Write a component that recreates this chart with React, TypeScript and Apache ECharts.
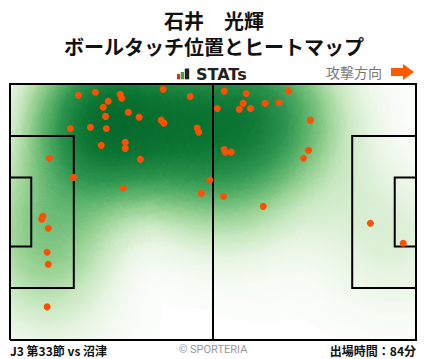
import React, { useEffect, useRef } from 'react';
import * as echarts from 'echarts';

const TITLE_LINES = ['石井　光輝', 'ボールタッチ位置とヒートマップ'];
const BRAND = 'STATs';
const DIRECTION_LABEL = '攻撃方向';
const MATCH_LABEL = 'J3 第33節 vs 沼津';
const COPYRIGHT = '© SPORTERIA';
const MINUTES_LABEL = '出場時間：84分';

// Pitch in metres: x along the length (0..105, attacking right), y across (0..68, top = 68)
const PITCH_LENGTH = 105;
const PITCH_WIDTH = 68;

// Ball-touch positions (metres)
const touchX = [
  17.7, 22.1, 28.5, 28.9, 39.6, 46.6, 25.4, 24.1, 30.6, 24.7,
  33.4, 39.1, 39.8, 15.6, 20.8, 24.9, 48.4, 48.8, 29.8, 29.8,
  23.6, 10.2, 33.7, 16.4, 29.3, 51.7, 49.5, 8.5, 8.2, 9.9,
  9.6, 9.9, 9.6, 55.4, 61.1, 72.0, 60.3, 66.0, 69.6, 53.6,
  59.3, 62.2, 77.7, 55.4, 55.7, 57.2, 77.2, 75.9, 55.2, 65.5,
  93.2, 101.7,
];
const touchY = [
  65.0, 65.8, 65.3, 64.2, 66.6, 64.7, 63.4, 61.8, 60.5, 59.4,
  59.2, 58.4, 57.6, 56.2, 56.5, 56.2, 56.3, 55.2, 52.5, 50.9,
  51.7, 48.3, 48.0, 43.2, 40.3, 42.5, 39.0, 32.9, 32.1, 29.7,
  23.3, 20.1, 8.8, 66.1, 65.5, 66.1, 62.9, 62.9, 63.1, 61.5,
  61.3, 61.5, 58.4, 50.6, 49.9, 49.9, 50.4, 48.3, 38.2, 35.5,
  31.0, 25.7,
];

// Pitch markings (metres)
const pitchLines: number[][][] = [
  [[0, 0], [105, 0], [105, 68], [0, 68], [0, 0]],
  [[52.5, 0], [52.5, 68]],
  [[0, 13.84], [16.5, 13.84], [16.5, 54.16], [0, 54.16]],
  [[0, 24.84], [5.5, 24.84], [5.5, 43.16], [0, 43.16]],
  [[105, 13.84], [88.5, 13.84], [88.5, 54.16], [105, 54.16]],
  [[105, 24.84], [99.5, 24.84], [99.5, 43.16], [105, 43.16]],
];

const HEAT_COLORS = ['#fbfdfa', '#e6f4e1', '#c6e7bf', '#97d192', '#5fb56e', '#2c944d', '#0b7533', '#005c24', '#004a1c'];

const pitchGeoJSON = {
  type: 'FeatureCollection',
  features: [
    {
      type: 'Feature',
      properties: { name: 'pitch' },
      geometry: {
        type: 'Polygon',
        coordinates: [[[0, 0], [PITCH_LENGTH, 0], [PITCH_LENGTH, PITCH_WIDTH], [0, PITCH_WIDTH], [0, 0]]],
      },
    },
  ],
};

const JP = '"Noto Sans CJK JP", "Noto Sans", sans-serif';

export default function App() {
  const ref = useRef<HTMLDivElement>(null);

  useEffect(() => {
    document.body.style.margin = '0';
    if (!ref.current) return;
    echarts.registerMap('pitch', pitchGeoJSON as any);
    const chart = echarts.init(ref.current, null, { renderer: 'svg' });

    const touches = touchX.map((x, i) => [x, touchY[i]]);

    const option: any = {
      animation: false,
      backgroundColor: '#ffffff',
      geo: {
        map: 'pitch',
        left: 10,
        top: 84,
        width: 406,
        height: 256,
        boundingCoords: [[0, PITCH_WIDTH], [PITCH_LENGTH, 0]],
        roam: false,
        silent: true,
        label: { show: false },
        itemStyle: { areaColor: '#ffffff', borderWidth: 0, borderColor: 'rgba(0,0,0,0)' },
        emphasis: { disabled: true },
        select: { disabled: true },
      },
      visualMap: {
        type: 'continuous',
        show: false,
        min: 0,
        max: 5.5,
        seriesIndex: 0,
        inRange: { color: HEAT_COLORS },
      },
      series: [
        {
          type: 'heatmap',
          coordinateSystem: 'geo',
          data: touches.map(([x, y]) => [x, y, 1]),
          pointSize: 50,
          blurSize: 80,
          minOpacity: 1,
          maxOpacity: 1,
          z: 2,
        },
        {
          type: 'lines',
          coordinateSystem: 'geo',
          polyline: true,
          silent: true,
          z: 3,
          lineStyle: { color: '#000000', width: 2, opacity: 1, curveness: 0 },
          data: pitchLines.map((coords) => ({ coords })),
        },
        {
          type: 'scatter',
          coordinateSystem: 'geo',
          silent: true,
          z: 4,
          symbol: 'circle',
          symbolSize: 7,
          itemStyle: { color: '#ff4f00', opacity: 1 },
          data: touches,
        },
      ],
      graphic: [
        {
          type: 'text', x: 214, y: 20.5,
          style: { text: TITLE_LINES[0], fontSize: 20, lineHeight: 20, fontWeight: 'bold', fontFamily: JP, fill: '#111',
            align: 'center', verticalAlign: 'middle', textAlign: 'center', textVerticalAlign: 'middle' },
        },
        {
          type: 'text', x: 214, y: 46.5,
          style: { text: TITLE_LINES[1], fontSize: 20, lineHeight: 20, fontWeight: 'bold', fontFamily: JP, fill: '#111',
            align: 'center', verticalAlign: 'middle', textAlign: 'center', textVerticalAlign: 'middle' },
        },
        { type: 'rect', shape: { x: 177, y: 74, width: 3.2, height: 5.3 }, style: { fill: '#e8251f' } },
        { type: 'rect', shape: { x: 180.8, y: 72, width: 3.2, height: 7.3 }, style: { fill: '#2eaa3a' } },
        { type: 'rect', shape: { x: 184.8, y: 68.5, width: 4.4, height: 10.8 }, style: { fill: '#222' } },
        {
          type: 'text', x: 196, y: 74,
          style: { text: BRAND, fontSize: 16, fontWeight: 'bold', fontFamily: '"DejaVu Sans", sans-serif', fill: '#222',
            align: 'left', verticalAlign: 'middle', textAlign: 'left', textVerticalAlign: 'middle' },
        },
        {
          type: 'text', x: 326, y: 72,
          style: { text: DIRECTION_LABEL, fontSize: 14, fontFamily: JP, fill: '#777',
            align: 'left', verticalAlign: 'middle', textAlign: 'left', textVerticalAlign: 'middle' },
        },
        {
          type: 'polygon',
          shape: { points: [[391, 68], [403, 68], [403, 64], [414, 72], [403, 80], [403, 76], [391, 76]] },
          style: { fill: '#ff5a00' },
        },
        {
          type: 'text', x: 10, y: 350,
          style: { text: MATCH_LABEL, fontSize: 12, fontWeight: 'bold', fontFamily: JP, fill: '#111',
            align: 'left', verticalAlign: 'middle', textAlign: 'left', textVerticalAlign: 'middle' },
        },
        {
          type: 'text', x: 213, y: 349,
          style: { text: COPYRIGHT, fontSize: 11, fontFamily: 'Roboto, sans-serif', fill: '#999',
            align: 'center', verticalAlign: 'middle', textAlign: 'center', textVerticalAlign: 'middle' },
        },
        {
          type: 'text', x: 416, y: 350,
          style: { text: MINUTES_LABEL, fontSize: 12, fontWeight: 'bold', fontFamily: JP, fill: '#111',
            align: 'right', verticalAlign: 'middle', textAlign: 'right', textVerticalAlign: 'middle' },
        },
      ],
    };

    chart.setOption(option);
    return () => chart.dispose();
  }, []);

  return <div ref={ref} style={{ width: 428, height: 359 }} />;
}
